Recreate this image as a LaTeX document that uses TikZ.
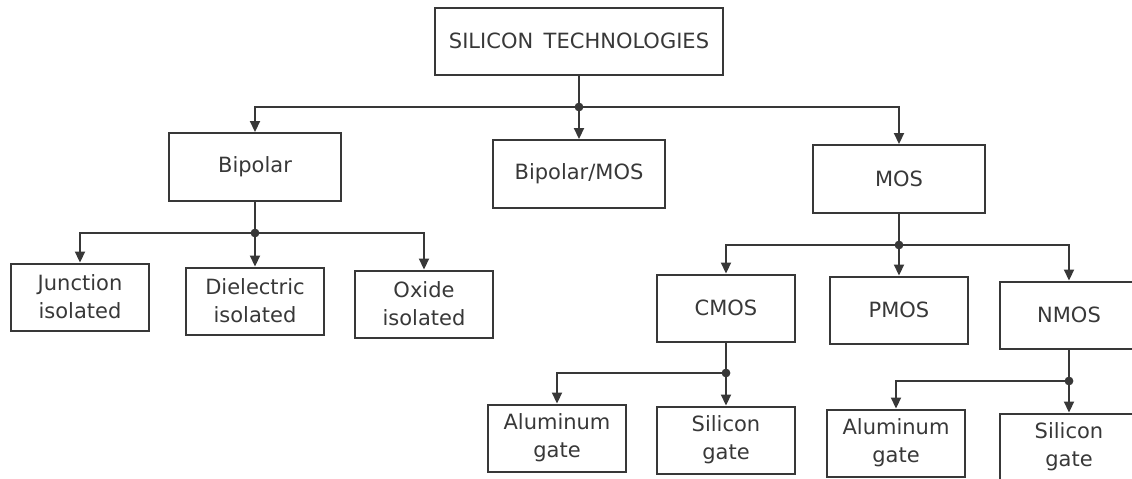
\documentclass[tikz,border=0pt]{standalone}
\usepackage{fontspec}
\setmainfont{DejaVu Sans}
\usetikzlibrary{positioning}
\usetikzlibrary{arrows.meta}
\definecolor{inkgray}{gray}{0.22}
\tikzset{
    box/.style = {rectangle, draw=inkgray, line width=1pt, align=center, text=inkgray, inner sep=0pt, font=\fontsize{10.5}{14}\selectfont},
    topbox/.style = {box, minimum width=144pt, minimum height=33.5pt},
    bigbox/.style = {box, minimum width=86pt, minimum height=34pt},
    leafbox/.style = {box, minimum width=69pt, minimum height=33.5pt},
    link/.style = {draw=inkgray, line width=1.1pt},
    linka/.style = {link, -{Triangle[length=5.5pt,width=5pt]}},
}

\begin{document}
\begin{tikzpicture}[x=0.5pt, y=-0.5pt]
  \useasboundingbox (0,0) rectangle (1132,478);
  \clip (0,0) rectangle (1132,478);
  % boxes
  \node[topbox] (top) at (579,41) {SILICON\enspace TECHNOLOGIES};
  \node[bigbox] (bip) at (255,167) {Bipolar};
  \node[bigbox] (bimos) at (579,174) {Bipolar/MOS};
  \node[bigbox] (mos) at (899,179) {MOS};
  \node[leafbox] (junc) at (80,297) {Junction\\isolated};
  \node[leafbox] (diel) at (255,301) {Dielectric\\isolated};
  \node[leafbox] (oxide) at (424,304) {Oxide\\isolated};
  \node[leafbox] (cmos) at (726,308) {CMOS};
  \node[leafbox] (pmos) at (899,310) {PMOS};
  \node[leafbox] (nmos) at (1069,315) {NMOS};
  \node[leafbox] (alc) at (557,438) {Aluminum\\gate};
  \node[leafbox] (sic) at (726,440) {Silicon\\gate};
  \node[leafbox] (aln) at (896,443) {Aluminum\\gate};
  \node[leafbox] (sin) at (1069,447) {Silicon\\gate};
  % branch points
  \coordinate (j0) at (579,107);
  \coordinate (j1) at (255,233);
  \coordinate (j2) at (899,245);
  \coordinate (j3) at (726,373);
  \coordinate (j4) at (1069,381);
  % connectors
  \draw[link] (top) -- (j0);
  \draw[linka] (j0) -| (bip);
  \draw[linka] (j0) -- (bimos);
  \draw[linka] (j0) -| (mos);
  \draw[link] (bip) -- (j1);
  \draw[linka] (j1) -| (junc);
  \draw[linka] (j1) -- (diel);
  \draw[linka] (j1) -| (oxide);
  \draw[link] (mos) -- (j2);
  \draw[linka] (j2) -| (cmos);
  \draw[linka] (j2) -- (pmos);
  \draw[linka] (j2) -| (nmos);
  \draw[link] (cmos) -- (j3);
  \draw[linka] (j3) -| (alc);
  \draw[linka] (j3) -- (sic);
  \draw[link] (nmos) -- (j4);
  \draw[linka] (j4) -| (aln);
  \draw[linka] (j4) -- (sin);
  \foreach \j in {j0,j1,j2,j3,j4}
    \fill[inkgray] (\j) circle (2.2pt);
\end{tikzpicture}
\end{document}
